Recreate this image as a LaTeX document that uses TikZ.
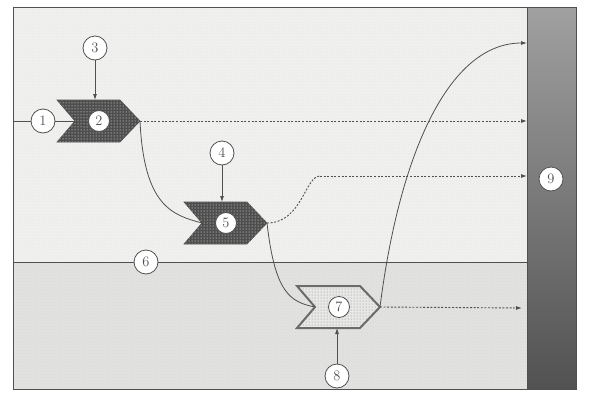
\documentclass[tikz,border=0pt]{standalone}
\usepackage{tikz}
\usetikzlibrary{arrows.meta,calc,patterns,positioning}
\definecolor{inkgray}{RGB}{80,80,80}
\definecolor{chevdark}{RGB}{78,78,78}
\definecolor{zoneup}{RGB}{240,240,238}
\definecolor{zonelow}{RGB}{226,226,224}
\definecolor{barlight}{RGB}{160,160,160}
\definecolor{bardark}{RGB}{82,82,82}
\tikzset{
  num/.style={circle,draw=inkgray,fill=white,line width=.8pt,minimum size=24pt,
    inner sep=0pt,font=\Large,text=inkgray},
  flow/.style={draw=inkgray,line width=.8pt},
  tip/.style={-{Latex[length=6pt,width=4pt]}},
  dotline/.style={flow,line width=.9pt,dash pattern=on 2pt off 1.6pt},
  chevfull/.style={fill=chevdark,draw=chevdark,line width=.6pt,
    postaction={pattern=dots,pattern color=white}},
  chevlight/.style={fill=zonelow!80!white,draw=inkgray!85,line width=2pt,line join=miter,
    postaction={pattern=dots,pattern color=inkgray!70}},
}
% chevron: name, notch x, notch y, style, number
\newcommand{\chevron}[5]{%
  \path[#4] (#2-18,#3-21) -- (#2+45,#3-21) -- (#2+65,#3) -- (#2+45,#3+21)
    -- (#2-18,#3+21) -- (#2,#3) -- cycle;
  \coordinate (#1-notch) at (#2,#3);
  \coordinate (#1-tip) at (#2+65,#3);
  \coordinate (#1-top) at (#2,#3-21);
  \coordinate (#1-bot) at (#2,#3+21);
  \node[num,minimum size=21pt] (#1-lab) at (#2+24,#3) {#5};
}

\begin{document}
\begin{tikzpicture}[x=1pt,y=-1pt]
  \useasboundingbox (0,0) rectangle (610,394);
  % zones and frame
  \fill[zoneup] (13,7) rectangle (527,262);
  \fill[zonelow] (13,262) rectangle (527,389);
  \fill[pattern=dots,pattern color=gray!25] (13,7) rectangle (527,262);
  \fill[pattern=crosshatch dots,pattern color=gray!30] (13,262) rectangle (527,389);
  \shade[top color=barlight,bottom color=bardark] (527,7) rectangle (576,389);
  \draw[inkgray,line width=.8pt] (13,7) rectangle (576,389);
  \draw[inkgray,line width=.8pt] (527,7) -- (527,389);
  \coordinate (left1) at (13,121);
  \coordinate (left6) at (13,262);
  \coordinate (right6) at (527,262);
  \coordinate (in2) at (527,121);
  \coordinate (in5) at (527,176);
  \coordinate (in7) at (522,308);
  \coordinate (inhi) at (527,43);
  \coordinate (step5) at (320,176);

  \chevron{p2}{75}{121}{chevfull}{2}
  \chevron{p5}{202}{223}{chevfull}{5}
  \chevron{p7}{315}{307}{chevlight}{7}

  \node[num] (c1) at (43,121) {1};
  \node[num] (c3) at (95,48) {3};
  \node[num] (c4) at (222,153) {4};
  \node[num] (c8) at (337,376) {8};
  \node[num] (c9) at (551,179) {9};

  % boundary line
  \draw[flow] (left6) -- (right6);
  \node[num] (c6) at (146,262) {6};

  % inputs
  \draw[flow] (left1) -- (c1) -- (p2-notch);
  \draw[flow,tip] (c3) -- (c3 |- p2-top);
  \draw[flow,tip] (c4) -- (c4 |- p5-top);
  \draw[flow,tip] (c8) -- (c8 |- p7-bot);

  % links between stages
  \draw[flow] (p2-tip) .. controls +(4,85) and +(-30,-8) .. (p5-notch);
  \draw[flow] (p5-tip) .. controls +(8,70) and +(-25,-5) .. (p7-notch);
  \draw[flow,tip] (p7-tip) .. controls (400,150) and (450,43) .. (inhi);

  % dotted outputs
  \draw[dotline,tip] (p2-tip) -- (in2);
  \draw[dotline] (p5-tip) .. controls +(35,0) and +(-15,0) .. (step5);
  \draw[dotline,tip] (step5) -- (in5);
  \draw[dotline,tip] (p7-tip) -- (in7);
\end{tikzpicture}
\end{document}
